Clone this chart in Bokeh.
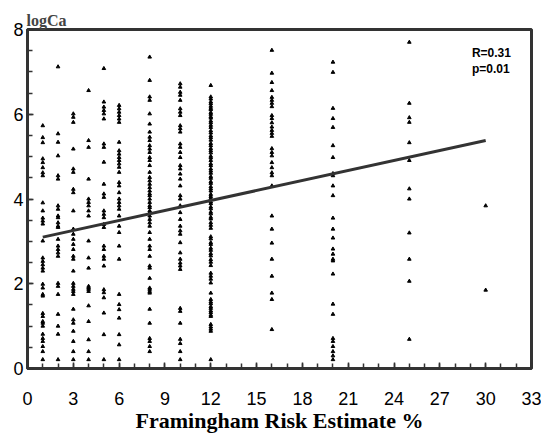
from bokeh.plotting import figure
from bokeh.models import Range1d, ColumnDataSource, SingleIntervalTicker, Label
from bokeh.embed import file_html
from bokeh.resources import INLINE

# Framingham risk estimate (%) levels and logCa values
y_at_1 = [5.73, 5.45, 5.33, 4.95, 4.86, 4.74, 4.62, 4.55, 3.91, 3.72, 3.55, 3.48, 3.41, 3.01,
          2.61, 2.53, 2.45, 2.37, 2.30, 1.99, 1.90, 1.75, 1.71, 1.30, 1.23, 1.11, 1.07, 1.00,
          0.81, 0.71, 0.64, 0.52, 0.40, 0.21]
y_at_2 = [7.12, 5.54, 5.34, 5.02, 4.55, 4.47, 3.84, 3.76, 3.60, 3.56, 3.44, 3.36, 3.33, 3.05,
          2.89, 2.81, 2.73, 2.65, 2.01, 1.94, 1.75, 1.28, 1.00, 0.81, 0.21]
y_at_3 = [6.01, 5.93, 5.81, 5.18, 4.71, 4.63, 4.23, 4.15, 3.72, 3.29, 3.17, 3.05, 2.93, 2.81,
          2.65, 2.58, 2.30, 2.01, 1.94, 1.87, 1.82, 1.75, 1.40, 1.15, 1.07, 0.88, 0.64, 0.40, 0.21]
y_at_4 = [6.56, 5.38, 5.22, 4.47, 4.00, 3.92, 3.84, 3.72, 3.60, 3.01, 2.61, 2.37, 1.94, 1.90,
          1.87, 1.82, 1.48, 1.11, 0.68, 0.40, 0.21]
y_at_5 = [7.08, 6.29, 6.17, 6.09, 6.01, 5.89, 5.30, 5.22, 4.87, 4.35, 4.12, 4.04, 3.72, 3.64,
          3.56, 3.40, 3.33, 2.89, 2.81, 2.65, 2.58, 2.42, 1.86, 1.79, 1.67, 1.31, 0.80, 0.21]
y_at_6 = [6.21, 6.13, 6.05, 5.97, 5.89, 5.81, 5.34, 5.14, 5.06, 4.98, 4.91, 4.83, 4.75, 4.63,
          4.39, 4.31, 4.15, 4.00, 3.92, 3.84, 3.76, 3.60, 3.36, 3.21, 2.89, 2.58, 1.75, 1.51,
          1.39, 1.19, 0.80, 0.56, 0.21]
y_at_8 = [7.35, 6.80, 6.41, 6.33, 6.01, 5.77, 5.58, 5.46, 5.38, 5.26, 5.18, 5.10, 4.98, 4.91,
          4.79, 4.63, 4.51, 4.43, 4.35, 4.27, 4.19, 4.12, 4.08, 4.00, 3.92, 3.84, 3.80, 3.72,
          3.68, 3.60, 3.52, 3.44, 3.36, 3.21, 3.05, 2.89, 2.81, 2.65, 2.42, 2.37, 2.13, 1.90,
          1.87, 1.82, 1.78, 1.40, 1.07, 0.71, 0.64, 0.52, 0.40]
y_at_10 = [6.72, 6.64, 6.52, 6.45, 6.33, 6.13, 6.05, 5.97, 5.73, 5.66, 5.58, 5.30, 5.22, 5.10,
           4.98, 4.79, 4.71, 4.59, 4.47, 4.31, 4.08, 4.00, 3.84, 3.68, 3.52, 3.36, 3.25, 3.17,
           2.97, 2.73, 2.58, 2.49, 2.42, 2.34, 1.42, 1.35, 1.07, 0.69, 0.59, 0.40, 0.21]
y_at_12 = [6.68, 6.41, 6.36, 6.29, 6.25, 6.19, 6.14, 6.11, 6.04, 6.00, 5.94, 5.91, 5.84, 5.80,
           5.74, 5.69, 5.61, 5.56, 5.49, 5.45, 5.39, 5.31, 5.26, 5.19, 5.14, 5.09, 5.01, 4.97,
           4.91, 4.83, 4.79, 4.71, 4.66, 4.61, 4.53, 4.49, 4.41, 4.37, 4.29, 4.24, 4.19, 4.11,
           4.06, 4.01, 3.93, 3.89, 3.81, 3.77, 3.69, 3.65, 3.57, 3.53, 3.44, 3.38, 3.31, 3.11,
           3.06, 2.97, 2.93, 2.84, 2.79, 2.71, 2.66, 2.57, 2.51, 2.43, 2.25, 2.18, 2.11, 2.02,
           1.78, 1.63, 1.57, 1.53, 1.46, 1.42, 1.36, 1.32, 1.26, 1.23, 1.04, 0.98, 0.93, 0.88,
           0.21]
y_at_16 = [7.51, 6.97, 6.75, 6.56, 6.40, 6.33, 6.26, 6.18, 5.97, 5.90, 5.80, 5.70, 5.62, 5.55,
           5.48, 5.19, 5.10, 5.02, 4.86, 4.74, 4.62, 4.55, 4.31, 3.60, 3.29, 2.96, 2.58, 2.18,
           1.78, 1.63, 0.92]
y_at_20 = [7.23, 6.99, 6.14, 5.90, 5.69, 5.26, 4.98, 4.60, 4.55, 4.31, 4.08, 3.55, 3.29, 3.08,
           2.82, 2.70, 2.58, 2.54, 2.23, 1.52, 1.28, 0.71, 0.64, 0.52, 0.40, 0.30, 0.21]
y_at_25 = [7.70, 6.26, 5.92, 5.81, 5.33, 4.91, 4.24, 4.00, 3.20, 2.58, 2.06, 0.69]
y_at_30 = [3.84, 1.85]

risk_levels = [1, 2, 3, 4, 5, 6, 8, 10, 12, 16, 20, 25, 30]
columns = [y_at_1, y_at_2, y_at_3, y_at_4, y_at_5, y_at_6, y_at_8, y_at_10, y_at_12,
           y_at_16, y_at_20, y_at_25, y_at_30]

# regression line end points
reg_x = [1, 30]
reg_y = [3.10, 5.38]

stats_lines = ["R=0.31", "p=0.01"]

xs, ys = [], []
for lvl, col in zip(risk_levels, columns):
    xs.extend([lvl] * len(col))
    ys.extend(col)
src = ColumnDataSource(data=dict(x=xs, y=ys))

p = figure(width=541, height=435, output_backend="svg", toolbar_location=None,
           x_range=Range1d(0, 33), y_range=Range1d(0, 8),
           min_border_left=27, min_border_right=10, min_border_top=29, min_border_bottom=67,
           title="logCa")
p.background_fill_color = "white"
p.border_fill_color = "white"
p.outline_line_color = "#333333"
p.outline_line_width = 3
p.grid.visible = False

p.title.text_font = "Liberation Serif"
p.title.text_font_style = "bold"
p.title.text_font_size = "16px"
p.title.align = "left"
p.title.standoff = 1
p.title.offset = -1

p.scatter("x", "y", source=src, marker="triangle", size=3.6, color="black")
p.line(reg_x, reg_y, line_color="#333333", line_width=3)

p.xaxis.ticker = SingleIntervalTicker(interval=3, num_minor_ticks=3)
p.yaxis.ticker = SingleIntervalTicker(interval=2, num_minor_ticks=4)

for ax in (p.xaxis[0], p.yaxis[0]):
    ax.axis_line_color = "#333333"
    ax.axis_line_width = 3
    ax.major_tick_line_color = "#333333"
    ax.minor_tick_line_color = "#333333"
    ax.major_tick_line_width = 1.5
    ax.minor_tick_line_width = 1.5
    ax.major_tick_in = 6
    ax.major_tick_out = 0
    ax.minor_tick_in = 5
    ax.minor_tick_out = 0
    ax.major_label_text_font = "Liberation Sans"
    ax.major_label_text_font_size = "18px"
    ax.major_label_text_color = "black"

p.yaxis.major_label_standoff = 4
p.xaxis.major_label_standoff = 23

p.xaxis.axis_label = "Framingham Risk Estimate %"
p.xaxis.axis_label_text_font = "Liberation Serif"
p.xaxis.axis_label_text_font_style = "bold"
p.xaxis.axis_label_text_font_size = "22px"
p.xaxis.axis_label_text_color = "black"
p.xaxis.axis_label_standoff = 0

p.add_layout(Label(x=29.1, y=7.44, text=stats_lines[0], text_font="Liberation Sans",
                   text_font_style="bold", text_font_size="12px", text_baseline="middle",
                   text_color="black"))
p.add_layout(Label(x=29.1, y=7.06, text=stats_lines[1], text_font="Liberation Sans",
                   text_font_style="bold", text_font_size="12px", text_baseline="middle",
                   text_color="black"))

open("out.html", "w").write(file_html(p, INLINE))
